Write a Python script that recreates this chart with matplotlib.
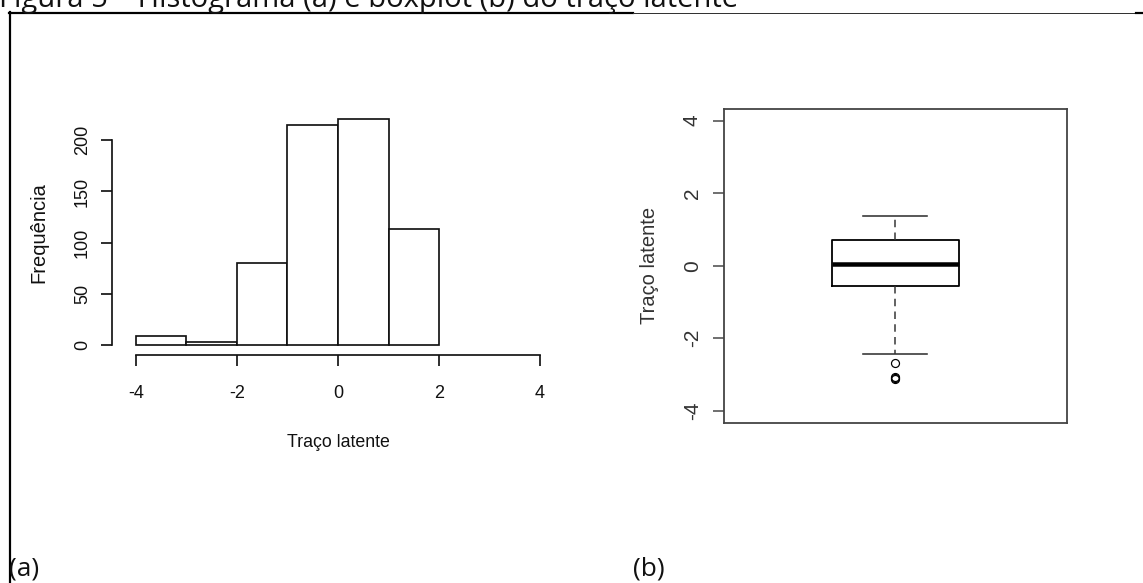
import matplotlib
matplotlib.use("Agg")
import matplotlib.pyplot as plt
from matplotlib.lines import Line2D

plt.rcParams["axes.unicode_minus"] = False

# ---------------- data ----------------
bin_edges = [-4, -3, -2, -1, 0, 1, 2]
freq = [9, 3, 80, 215, 221, 113]
hist_xticks = [-4, -2, 0, 2, 4]
hist_yticks = [0, 50, 100, 150, 200]

box_q1 = -0.57
box_median = 0.05
box_q3 = 0.72
box_whislo = -2.44
box_whishi = 1.37
box_fliers = [-2.67, -3.08, -3.10, -3.12]
box_yticks = [-4, -2, 0, 2, 4]

title_text = "Figura 5 \u2013 Histograma (a) e boxplot (b) do tra\u00e7o latente"
xlabel_text = "Tra\u00e7o latente"
ylabel_hist = "Frequ\u00eancia"
ylabel_box = "Tra\u00e7o latente"

# ---------------- figure ----------------
W, H = 1143, 583
DPI = 100
fig = plt.figure(figsize=(W / DPI, H / DPI), dpi=DPI)
fig.patch.set_facecolor("white")


def ax_px(l, t, r, b):
    return fig.add_axes([l / W, 1 - b / H, (r - l) / W, (b - t) / H])


def px2pt(p):
    return p * 72.0 / DPI


R_FONT = "Liberation Sans"
DOC_FONT = ["Open Sans", "DejaVu Sans"]
ink = "#111111"

# frame lines of the document figure
frame = fig.add_axes([0, 0, 1, 1])
frame.set_xlim(0, W)
frame.set_ylim(H, 0)
frame.axis("off")
frame.add_line(Line2D([9.5, 9.5], [12, H], color="black", lw=px2pt(2.2)))
frame.add_line(Line2D([9, 633], [12.5, 12.5], color="black", lw=px2pt(2.2)))
frame.add_line(Line2D([633, 1136], [12.5, 12.5], color="#333333", lw=px2pt(1)))
frame.add_line(Line2D([1136, 1143], [12.5, 12.5], color="black", lw=px2pt(2.2)))
frame.text(-1, 7, title_text, fontsize=21, family=DOC_FONT, color="#111111",
           ha="left", va="baseline")
frame.text(9, 576, "(a)", fontsize=19, family=DOC_FONT, color="#111111",
           ha="left", va="baseline")
frame.text(633, 576, "(b)", fontsize=19, family=DOC_FONT, color="#111111",
           ha="left", va="baseline")

# ---------------- histogram (a) ----------------
ax1 = ax_px(112, 109.7, 564, 355)
widths = [bin_edges[i + 1] - bin_edges[i] for i in range(len(freq))]
ax1.bar(bin_edges[:-1], freq, width=widths, align="edge", facecolor="white",
        edgecolor=ink, linewidth=px2pt(1.7))
ax1.set_xlim(-4.475, 4.475)
ax1.set_ylim(-9.76, 229.9)
for s in ["top", "right"]:
    ax1.spines[s].set_visible(False)
ax1.spines["left"].set_bounds(0, 200)
ax1.spines["bottom"].set_bounds(-4, 4)
for s in ["left", "bottom"]:
    ax1.spines[s].set_linewidth(px2pt(1.7))
    ax1.spines[s].set_color(ink)
ax1.set_xticks(hist_xticks)
ax1.set_yticks(hist_yticks)
ax1.tick_params(direction="out", length=px2pt(11), width=px2pt(1.7), color=ink,
                labelsize=13, labelcolor=ink)
ax1.tick_params(axis="x", pad=px2pt(19))
ax1.tick_params(axis="y", pad=px2pt(10))
for lab in ax1.get_xticklabels():
    lab.set_fontfamily(R_FONT)
for lab in ax1.get_yticklabels():
    lab.set_fontfamily(R_FONT)
    lab.set_rotation(90)
    lab.set_va("center")
ax1.set_xlabel(xlabel_text, fontsize=12.8, family=R_FONT, color=ink,
               labelpad=px2pt(32))
ax1.set_ylabel(ylabel_hist, fontsize=14.5, family=R_FONT, color=ink,
               labelpad=px2pt(26))

# ---------------- boxplot (b) ----------------
ax2 = ax_px(724, 108.7, 1066.7, 422.7)
stats = [dict(med=box_median, q1=box_q1, q3=box_q3, whislo=box_whislo,
              whishi=box_whishi, fliers=box_fliers, label="")]
ax2.bxp(stats, positions=[1], widths=0.372, capwidths=[0.187],
        boxprops=dict(color="black", linewidth=px2pt(1.8)),
        medianprops=dict(color="black", linewidth=px2pt(4.5)),
        whiskerprops=dict(color="#333333", linewidth=px2pt(1.5),
                          linestyle=(0, (5, 3.5))),
        capprops=dict(color="#333333", linewidth=px2pt(1.6)),
        flierprops=dict(marker="o", markerfacecolor="none",
                        markeredgecolor="black", markersize=px2pt(8),
                        markeredgewidth=px2pt(1.2)))
ax2.set_xlim(0.5, 1.5)
ax2.set_ylim(-4.33, 4.33)
for s in ax2.spines.values():
    s.set_color("#444444")
    s.set_linewidth(px2pt(1.8))
ax2.set_xticks([])
ax2.set_yticks(box_yticks)
ax2.tick_params(axis="y", direction="out", length=px2pt(11), width=px2pt(1.5),
                color="#444444", labelsize=15, labelcolor="#333333",
                pad=px2pt(11))
for lab in ax2.get_yticklabels():
    lab.set_fontfamily(R_FONT)
    lab.set_rotation(90)
    lab.set_va("center")
ax2.set_ylabel(ylabel_box, fontsize=14.5, family=R_FONT, color="#333333",
               labelpad=px2pt(24))

fig.savefig("out.png", dpi=DPI)
